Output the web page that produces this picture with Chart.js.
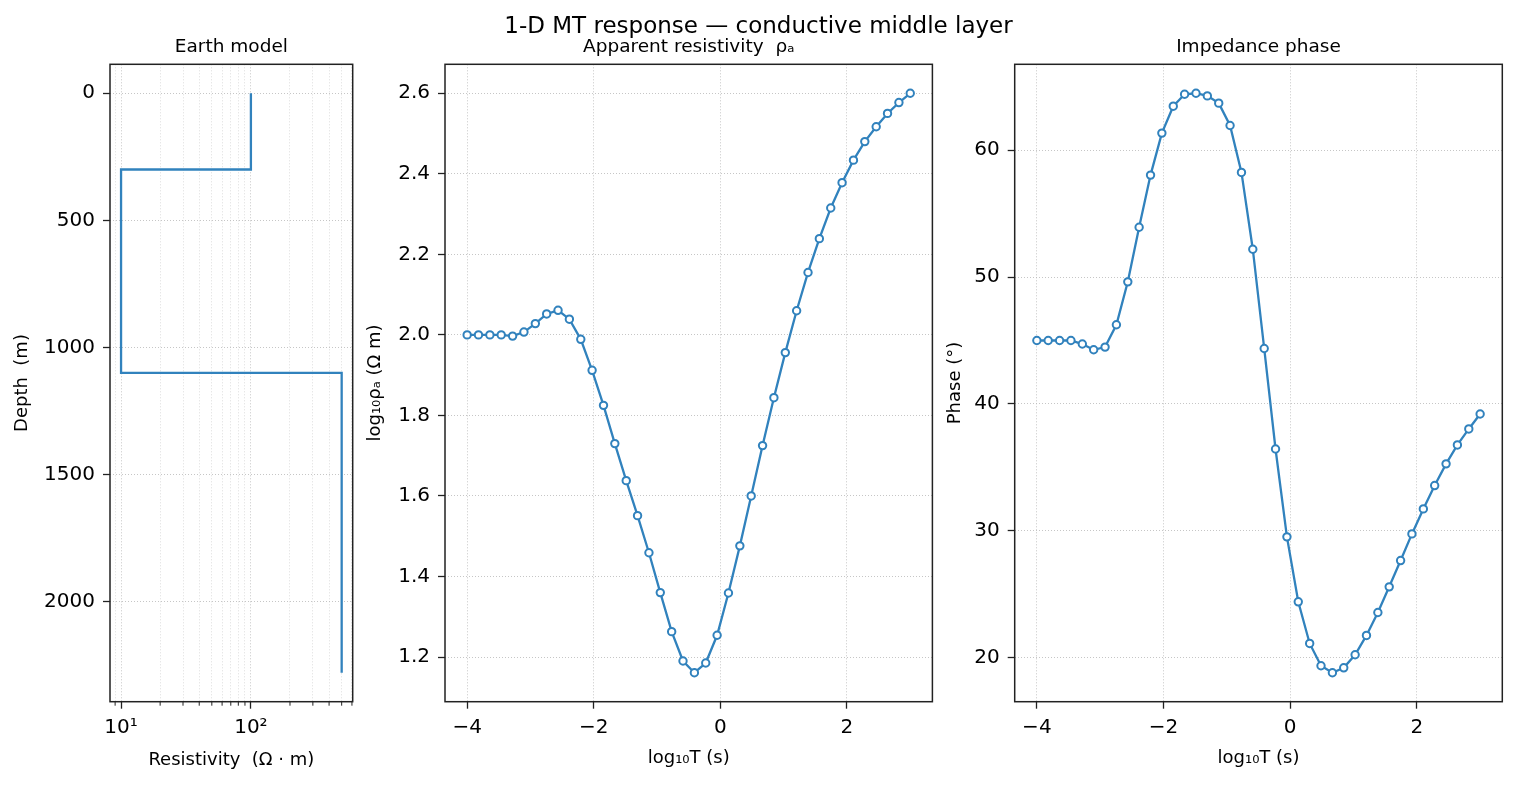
<!DOCTYPE html>
<html><head><meta charset="utf-8">
<script src="https://cdn.jsdelivr.net/npm/chart.js@4.4.1/dist/chart.umd.min.js"></script>
<style>
html,body{margin:0;padding:0;background:#fff;}
#wrap{position:relative;width:1517px;height:788px;overflow:hidden;background:#fff;}
canvas{position:absolute;top:0;}
#sup{position:absolute;left:0;width:1517px;top:13.5px;text-align:center;font:23px/23px 'DejaVu Sans';color:#000;white-space:nowrap;}
</style></head><body>
<div id="wrap">
<canvas id="c1" width="370" height="788" style="left:0px"></canvas>
<canvas id="c2" width="590" height="788" style="left:360px"></canvas>
<canvas id="c3" width="577" height="788" style="left:940px"></canvas>
<div id="sup">1-D MT response — conductive middle layer</div>
</div>
<script>
// ---- Earth model (layers) ----
const layerTop    = [0, 300, 1100];
const layerBottom = [300, 1100, 2280];
const layerRho    = [100, 10, 500];

// ---- MT response ----
const logT = [-4.000, -3.821, -3.641, -3.462, -3.282, -3.103, -2.923, -2.744, -2.564, -2.385,
              -2.205, -2.026, -1.846, -1.667, -1.487, -1.308, -1.128, -0.949, -0.769, -0.590,
              -0.410, -0.231, -0.051,  0.128,  0.308,  0.487,  0.667,  0.846,  1.026,  1.205,
               1.385,  1.564,  1.744,  1.923,  2.103,  2.282,  2.462,  2.641,  2.821,  3.000];
const log10Rho = [2.000, 2.000, 2.000, 2.000, 1.997, 2.007, 2.028, 2.052, 2.061, 2.039,
                  1.989, 1.912, 1.825, 1.730, 1.638, 1.551, 1.459, 1.360, 1.263, 1.190,
                  1.161, 1.185, 1.254, 1.359, 1.476, 1.600, 1.725, 1.844, 1.956, 2.060,
                  2.155, 2.239, 2.315, 2.378, 2.434, 2.480, 2.517, 2.550, 2.577, 2.600];
const phaseDeg = [45.0, 45.0, 45.0, 45.0, 44.72, 44.27, 44.48, 46.24, 49.62, 53.92,
                  58.03, 61.34, 63.46, 64.40, 64.48, 64.27, 63.70, 61.94, 58.24, 52.19,
                  44.37, 36.45, 29.53, 24.41, 21.13, 19.37, 18.82, 19.21, 20.24, 21.76,
                  23.57, 25.59, 27.66, 29.76, 31.73, 33.57, 35.28, 36.77, 38.03, 39.21];

// ---- tick labels ----
const modelXTicks = [9, 10, 20, 30, 40, 50, 60, 70, 80, 90, 100, 200, 300, 400, 500, 600];
const modelXMajor = [10, 100];
const modelXLabels = {10: '10¹', 100: '10²'};
const depthTicks  = [0, 500, 1000, 1500, 2000];
const periodTicks = [-4, -2, 0, 2];
const rhoTicks    = [1.2, 1.4, 1.6, 1.8, 2.0, 2.2, 2.4, 2.6];
const phaseTicks  = [20, 30, 40, 50, 60];

const BLUE = '#3182bd';
Chart.defaults.font.family = 'DejaVu Sans';
Chart.defaults.color = '#000';

const fmt = v => (v < 0 ? '\u2212' + Math.abs(v) : String(v));

const framePlugin = {
  id: 'frame',
  afterDatasetsDraw(chart) {
    const {ctx, chartArea: a} = chart;
    ctx.save(); ctx.strokeStyle = '#222'; ctx.lineWidth = 1.5;
    ctx.strokeRect(a.left, a.top, a.right - a.left, a.bottom - a.top);
    ctx.restore();
  }
};
const minorTickPlugin = {
  id: 'minorTicks',
  afterDraw(chart) {
    const s = chart.scales.x, ctx = chart.ctx, b = chart.chartArea.bottom;
    ctx.save(); ctx.strokeStyle = '#222'; ctx.lineWidth = 1;
    s.ticks.forEach(t => {
      if (!t.major) {
        const px = s.getPixelForValue(t.value);
        ctx.beginPath(); ctx.moveTo(px, b); ctx.lineTo(px, b + 4); ctx.stroke();
      }
    });
    ctx.restore();
  }
};

function grid(extra) {
  return Object.assign({color: '#b8b8b8', lineWidth: 0.8, tickColor: '#222', tickLength: 7, tickWidth: 1.3}, extra || {});
}
const border = {display: false, dash: [1, 2]};

function xScale(opts) {
  return Object.assign({
    afterFit: s => { s.height = 86.3; },
    border: border,
    grid: grid(),
    ticks: {font: {size: 20}, padding: 7, maxRotation: 0, minRotation: 0, autoSkip: false, callback: v => fmt(v)},
  }, opts);
}
function yScale(width, opts) {
  return Object.assign({
    afterFit: s => { s.width = width; },
    border: border,
    grid: grid(),
    ticks: {font: {size: 20}, padding: 8, autoSkip: false, callback: v => fmt(v)},
  }, opts);
}
function baseOptions(title, rightPad) {
  return {
    responsive: false, animation: false, events: [],
    layout: {padding: {left: 0, right: rightPad, top: 0, bottom: 0}, autoPadding: false},
    plugins: {
      legend: {display: false}, tooltip: {enabled: false},
      title: {display: true, text: title, fullSize: false, color: '#000',
              font: {size: 18.5, weight: 'normal'}, padding: {top: 36.5, bottom: 5.6}}
    }
  };
}
function lineDataset(xs, ys, marker) {
  return {
    data: xs.map((x, i) => ({x: x, y: ys[i]})),
    showLine: true, tension: 0, borderColor: BLUE, borderWidth: 2.3,
    pointRadius: marker ? 3.7 : 0, pointBorderWidth: 2,
    pointBackgroundColor: '#fff', pointBorderColor: BLUE
  };
}

// ---- Panel 1: Earth model ----
const modelX = [], modelY = [];
layerRho.forEach((r, i) => { modelX.push(r, r); modelY.push(layerTop[i], layerBottom[i]); });

const o1 = baseOptions('Earth model', 17.3);
o1.scales = {
  x: xScale({
    type: 'logarithmic', min: 8.22, max: 608,
    afterBuildTicks: s => { s.ticks = modelXTicks.map(v => ({value: v, major: modelXMajor.includes(v)})); },
    grid: grid({color: c => (c.tick && c.tick.major ? '#b8b8b8' : '#d4d4d4'),
                tickColor: c => (c.tick && c.tick.major ? '#222' : 'rgba(0,0,0,0)')}),
    ticks: {font: {size: 20}, padding: 7, maxRotation: 0, minRotation: 0, autoSkip: false,
            callback: v => modelXLabels[v] || ''},
    title: {display: true, text: 'Resistivity  (Ω · m)', font: {size: 18}, padding: {top: 0, bottom: 17}}
  }),
  y: yScale(110, {
    type: 'linear', reverse: true, min: -114, max: 2394, bounds: 'data',
    afterBuildTicks: s => { s.ticks = depthTicks.map(v => ({value: v})); },
    title: {display: true, text: 'Depth  (m)', font: {size: 18}, padding: {top: 12, bottom: 0}}
  })
};
new Chart(document.getElementById('c1'), {
  type: 'scatter',
  data: {datasets: [lineDataset(modelX, modelY, false)]},
  options: o1,
  plugins: [framePlugin, minorTickPlugin]
});

// ---- Panel 2: apparent resistivity ----
const o2 = baseOptions('Apparent resistivity  ρₐ', 17.6);
o2.scales = {
  x: xScale({
    type: 'linear', min: -4.35, max: 3.35, bounds: 'data',
    afterBuildTicks: s => { s.ticks = periodTicks.map(v => ({value: v})); },
    title: {display: true, text: 'log₁₀T (s)', font: {size: 18}, padding: {top: 0, bottom: 19}}
  }),
  y: yScale(85, {
    type: 'linear', min: 1.089, max: 2.672, bounds: 'data',
    afterBuildTicks: s => { s.ticks = rhoTicks.map(v => ({value: v})); },
    ticks: {font: {size: 20}, padding: 8, autoSkip: false, callback: v => v.toFixed(1)},
    title: {display: true, text: 'log₁₀ρₐ (Ω m)', font: {size: 18}, padding: {top: 5, bottom: 0}}
  })
};
new Chart(document.getElementById('c2'), {
  type: 'scatter',
  data: {datasets: [lineDataset(logT, log10Rho, true)]},
  options: o2,
  plugins: [framePlugin]
});

// ---- Panel 3: impedance phase ----
const o3 = baseOptions('Impedance phase', 14.7);
o3.scales = {
  x: xScale({
    type: 'linear', min: -4.35, max: 3.35, bounds: 'data',
    afterBuildTicks: s => { s.ticks = periodTicks.map(v => ({value: v})); },
    title: {display: true, text: 'log₁₀T (s)', font: {size: 18}, padding: {top: 0, bottom: 19}}
  }),
  y: yScale(74.7, {
    type: 'linear', min: 16.54, max: 66.76, bounds: 'data',
    afterBuildTicks: s => { s.ticks = phaseTicks.map(v => ({value: v})); },
    title: {display: true, text: 'Phase (°)', font: {size: 18}, padding: {top: 4.3, bottom: 0}}
  })
};
new Chart(document.getElementById('c3'), {
  type: 'scatter',
  data: {datasets: [lineDataset(logT, phaseDeg, true)]},
  options: o3,
  plugins: [framePlugin]
});
</script>
</body></html>
